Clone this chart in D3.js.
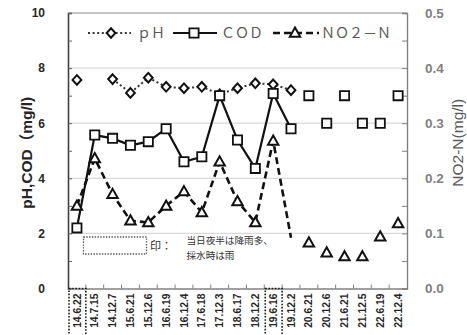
<!DOCTYPE html>
<html>
<head>
<meta charset="utf-8">
<script src="https://cdn.jsdelivr.net/npm/d3@7/dist/d3.min.js"></script>
<style>
  body { margin: 0; background: #fff; }
  svg { display: block; }
</style>
</head>
<body>
<svg id="chart" width="467" height="335"></svg>
<script>
// Sampling dates (yy.m.d)
const dates = ["14.6.22", "14.7.15", "14.12.7", "15.6.21", "15.12.6", "16.6.19", "16.12.4",
  "17.6.18", "17.12.3", "18.6.17", "18.12.2", "19.6.16", "19.12.2", "20.6.21", "20.12.6",
  "21.6.21", "21.12.5", "22.6.19", "22.12.4"];

// pH (left axis)
const phValues = [7.57, null, 7.6, 7.1, 7.65, 7.32, 7.27, 7.32, 7.05, 7.27, 7.45, 7.41, 7.2,
  null, null, null, null, null, null];

// COD, mg/l (left axis)
const codValues = [2.2, 5.57, 5.45, 5.2, 5.33, 5.8, 4.6, 4.78, 7.0, 5.39, 4.36, 7.08, 5.8,
  7.0, 6.0, 7.0, 6.0, 6.0, 7.0];

// NO2-N, mg/l (right axis)
const no2Values = [0.15, 0.236, 0.171, 0.123, 0.12, 0.15, 0.176, 0.138, 0.23, 0.158, 0.12,
  0.268, 0.092, 0.083, 0.065, 0.058, 0.058, 0.094, 0.118];

// Samples up to this date are joined by lines; later ones are plotted as points only
const lastLinkedDate = "19.12.2";
// NO2-N samples drawn without a marker
const no2Unmarked = ["19.12.2"];
// Days with heavy rain the night before / rain while sampling
const rainyDates = ["14.6.22", "19.6.16"];

const leftTicks = d3.range(0, 11, 1);
const rightTicks = d3.range(0, 0.501, 0.05);

const legendItems = [
  { key: "ph", label: "ｐＨ" },
  { key: "cod", label: "ＣＯＤ" },
  { key: "no2", label: "ＮＯ２－Ｎ" }
];

const noteMark = "印：";
const noteLines = ["当日夜半は降雨多、", "採水時は雨"];

// ---- layout ----
const W = 467, H = 335;
const margin = { top: 13, right: 60, bottom: 46.5, left: 68 };
const x0 = margin.left, x1 = W - margin.right;
const y0 = H - margin.bottom, y1 = margin.top;

const svg = d3.select("#chart");

const x = d3.scaleBand().domain(dates).range([x0, x1]).padding(0);
const yL = d3.scaleLinear().domain([0, 10]).range([y0, y1]);
const yR = d3.scaleLinear().domain([0, 0.5]).range([y0, y1]);
const cx = d => x(d) + x.bandwidth() / 2;

const linkedIdx = dates.indexOf(lastLinkedDate);

// gridlines
svg.append("g")
  .selectAll("line")
  .data([2, 4, 6, 8])
  .join("line")
  .attr("x1", x0).attr("x2", x1)
  .attr("y1", d => yL(d)).attr("y2", d => yL(d))
  .attr("stroke", "#d9d9d9").attr("stroke-width", 1.2);

// frame: top and right in grey
svg.append("line").attr("x1", x0).attr("x2", x1).attr("y1", y1).attr("y2", y1)
  .attr("stroke", "#8c8c8c").attr("stroke-width", 1.2);

// left axis
const leftAxis = svg.append("g")
  .attr("transform", `translate(${x0},0)`)
  .call(d3.axisLeft(yL).tickValues(leftTicks).tickSize(-4).tickPadding(23)
    .tickFormat(d => d % 2 === 0 ? d : ""));
leftAxis.select(".domain").attr("stroke", "#404040").attr("stroke-width", 1.6);
leftAxis.selectAll(".tick line").attr("stroke", "#606060");
leftAxis.selectAll("text")
  .attr("font-family", "Liberation Sans, Arial, sans-serif")
  .attr("font-size", 12).attr("font-weight", "bold").attr("fill", "#262626");

// right axis
const rightAxis = svg.append("g")
  .attr("transform", `translate(${x1},0)`)
  .call(d3.axisRight(yR).tickValues(rightTicks).tickSize(-5).tickPadding(18)
    .tickFormat(d => (Math.round(d * 100) % 10 === 0) ? d3.format(".1f")(d) : ""));
rightAxis.select(".domain").attr("stroke", "#808080").attr("stroke-width", 1.4);
rightAxis.selectAll(".tick line").attr("stroke", "#808080");
rightAxis.selectAll("text")
  .attr("font-family", "Liberation Sans, Arial, sans-serif")
  .attr("font-size", 13.5).attr("font-weight", "bold").attr("fill", "#7f7f7f");

// bottom axis: labels at band centres, ticks at band edges
const bottomAxis = svg.append("g")
  .attr("transform", `translate(0,${y0})`)
  .call(d3.axisBottom(x).tickSize(0).tickPadding(0));
bottomAxis.select(".domain").attr("stroke", "#808080").attr("stroke-width", 1.4);
bottomAxis.selectAll(".tick text")
  .attr("transform", "rotate(-90)")
  .attr("text-anchor", "end")
  .attr("x", -5).attr("y", 3.6).attr("dy", 0)
  .attr("font-family", "Liberation Sans, Arial, sans-serif")
  .attr("font-size", 10.3).attr("font-weight", "bold").attr("fill", "#262626");
svg.append("g")
  .selectAll("line")
  .data(dates.slice(1))
  .join("line")
  .attr("x1", d => x(d)).attr("x2", d => x(d))
  .attr("y1", y0).attr("y2", y0 - 4)
  .attr("stroke", "#808080");

// dotted boxes around rainy-day labels
svg.append("g")
  .selectAll("rect")
  .data(rainyDates)
  .join("rect")
  .attr("x", d => x(d) + 1).attr("y", y0)
  .attr("width", x.bandwidth() - 1).attr("height", H - y0 + 4)
  .attr("fill", "none").attr("stroke", "#1a1a1a")
  .attr("stroke-width", 1.6).attr("stroke-dasharray", "1.6,1.6");

// axis titles
svg.append("text")
  .attr("transform", `translate(31.5,${(y0 + y1) / 2 + 2}) rotate(-90)`)
  .attr("text-anchor", "middle")
  .attr("font-family", "Liberation Sans, Arial, 'Noto Sans CJK JP', sans-serif")
  .attr("font-size", 15.5).attr("font-weight", "bold").attr("fill", "#262626")
  .text("pH,COD（mg/l)");

svg.append("text")
  .attr("transform", `translate(463,${(y0 + y1) / 2 - 8}) rotate(-90)`)
  .attr("text-anchor", "middle")
  .attr("font-family", "Liberation Sans, Arial, sans-serif")
  .attr("font-size", 15.5).attr("fill", "#595959")
  .text("NO2-N(mg/l)");

// ---- series ----
const phPts = dates.map((d, i) => ({ d, v: phValues[i], i }));
const codPts = dates.map((d, i) => ({ d, v: codValues[i], i }));
const no2Pts = dates.map((d, i) => ({ d, v: no2Values[i], i }));

const lineL = d3.line().defined(p => p.v != null && p.i <= linkedIdx)
  .x(p => cx(p.d)).y(p => yL(p.v));
const lineR = d3.line().defined(p => p.v != null && p.i <= linkedIdx)
  .x(p => cx(p.d)).y(p => yR(p.v));

const styles = {
  ph: { dash: "2,2.6", width: 2, color: "#333" },
  cod: { dash: null, width: 2.2, color: "#111" },
  no2: { dash: "7,4", width: 2.6, color: "#111" }
};

svg.append("path").datum(no2Pts).attr("d", lineR)
  .attr("fill", "none").attr("stroke", styles.no2.color)
  .attr("stroke-width", styles.no2.width).attr("stroke-dasharray", styles.no2.dash);
svg.append("path").datum(codPts).attr("d", lineL)
  .attr("fill", "none").attr("stroke", styles.cod.color)
  .attr("stroke-width", styles.cod.width);
svg.append("path").datum(phPts).attr("d", lineL)
  .attr("fill", "none").attr("stroke", styles.ph.color)
  .attr("stroke-width", styles.ph.width).attr("stroke-dasharray", styles.ph.dash);

// marker shapes
const diamond = "M0,-4.8L4.4,0L0,4.8L-4.4,0Z";
const square = "M-4.6,-4.6H4.6V4.6H-4.6Z";
const triangle = "M0,-5.4L5.2,3.8H-5.2Z";

function drawMarker(g, path, sw) {
  return g.append("path").attr("d", path).attr("fill", "#fff")
    .attr("stroke", "#111").attr("stroke-width", sw);
}

svg.append("g")
  .selectAll("path")
  .data(phPts.filter(p => p.v != null))
  .join("path")
  .attr("transform", p => `translate(${cx(p.d)},${yL(p.v)})`)
  .attr("d", diamond).attr("fill", "#fff").attr("stroke", "#111").attr("stroke-width", 2);

svg.append("g")
  .selectAll("path")
  .data(codPts.filter(p => p.v != null))
  .join("path")
  .attr("transform", p => `translate(${cx(p.d)},${yL(p.v)})`)
  .attr("d", square).attr("fill", "#fff").attr("stroke", "#111").attr("stroke-width", 1.8);

svg.append("g")
  .selectAll("path")
  .data(no2Pts.filter(p => p.v != null && !no2Unmarked.includes(p.d)))
  .join("path")
  .attr("transform", p => `translate(${cx(p.d)},${yR(p.v)})`)
  .attr("d", triangle).attr("fill", "#fff").attr("stroke", "#111").attr("stroke-width", 2);

// ---- legend ----
const legendY = 33;
const legendLayout = {
  ph: { lx: [88, 131], mx: 111, tx: 137, shape: diamond, sw: 2 },
  cod: { lx: [173, 217], mx: 194, tx: 221, shape: square, sw: 1.8 },
  no2: { lx: [273, 319], mx: 295, tx: 321, shape: triangle, sw: 2 }
};
const legend = svg.append("g");
legendItems.forEach(item => {
  const L = legendLayout[item.key], s = styles[item.key];
  legend.append("line")
    .attr("x1", L.lx[0]).attr("x2", L.lx[1]).attr("y1", legendY).attr("y2", legendY)
    .attr("stroke", s.color).attr("stroke-width", s.width)
    .attr("stroke-dasharray", s.dash);
  legend.append("path")
    .attr("transform", `translate(${L.mx},${legendY})`)
    .attr("d", L.shape).attr("fill", "#fff").attr("stroke", "#111").attr("stroke-width", L.sw);
  legend.append("text")
    .attr("x", L.tx).attr("y", legendY + 5)
    .attr("font-family", "'Noto Sans CJK JP', sans-serif")
    .attr("font-size", 14).attr("fill", "#595959")
    .text(item.label);
});

// ---- rain note ----
svg.append("rect")
  .attr("x", 83.5).attr("y", 237).attr("width", 63).attr("height", 17)
  .attr("fill", "none").attr("stroke", "#555")
  .attr("stroke-width", 1.3).attr("stroke-dasharray", "1.4,1.4");
svg.append("text")
  .attr("x", 150).attr("y", 250)
  .attr("font-family", "'Noto Sans CJK JP', sans-serif")
  .attr("font-size", 11).attr("fill", "#333")
  .text(noteMark);
svg.append("g")
  .selectAll("text")
  .data(noteLines)
  .join("text")
  .attr("x", 186.5).attr("y", (d, i) => 243.5 + i * 15)
  .attr("font-family", "'Noto Sans CJK JP', sans-serif")
  .attr("font-size", 9.6).attr("fill", "#333")
  .text(d => d);
</script>
</body>
</html>
